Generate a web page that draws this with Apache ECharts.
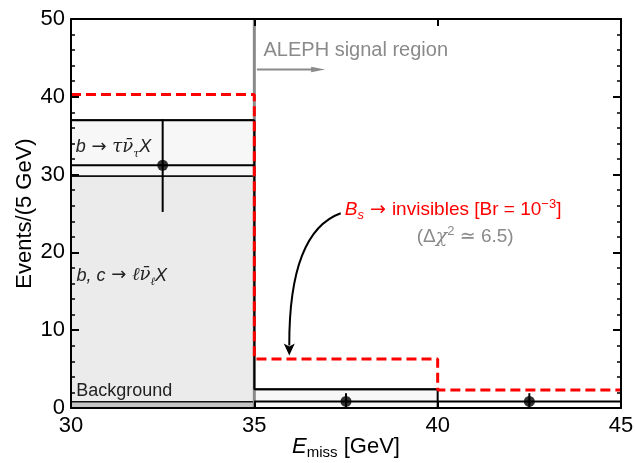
<!DOCTYPE html>
<html><head><meta charset="utf-8">
<script src="https://cdn.jsdelivr.net/npm/echarts@6/dist/echarts.min.js"></script>
<style>html,body{margin:0;padding:0;background:#fff}#c{width:635px;height:463px}</style>
</head><body><div id="c"></div>
<script>
// ---- data ----
const binStart = [30, 35, 40];
const binEnd = [35, 40, 45];
const bkgOther = [0.8, 0, 0];       // "Background"
const bkgBcLnu = [29.0, 0, 0];      // b,c -> l nu X
const bkgBTaunu = [7.2, 2.4, 0];    // b -> tau nu X
const dataX = [32.5, 37.5, 42.5];
const dataY = [31.2, 0.85, 0.85];
const dataLow = [25.2, 0, 0];
const dataHigh = [37.1, 1.9, 1.9];
const signalY = [40.3, 6.3, 2.3];
const signalRegionX = 35;

const FONT = "'Liberation Sans', Arial, 'DejaVu Sans', sans-serif";
const chart = echarts.init(document.getElementById('c'), null, {renderer: 'canvas'});

const totalY = binStart.map((_, i) => bkgOther[i] + bkgBcLnu[i] + bkgBTaunu[i]);
const stepData = arr => binStart.map((x, i) => [x, arr[i]]).concat([[binEnd[binEnd.length - 1], arr[arr.length - 1]]]);

const fills = ['#c4c4c4', '#ebebeb', '#f7f7f7'];

function renderStack(params, api) {
  const x0 = api.value(0), x1 = api.value(1);
  const parts = [api.value(2), api.value(3), api.value(4)];
  const children = [];
  let base = 0;
  parts.forEach((v, k) => {
    if (!v) return;
    const a = api.coord([x0, base + v]);
    const b = api.coord([x1, base]);
    children.push({type: 'rect', shape: {x: a[0], y: a[1], width: b[0] - a[0], height: b[1] - a[1]}, style: {fill: fills[k]}});
    base += v;
  });
  base = 0;
  parts.forEach((v) => {
    if (!v) return;
    base += v;
    const a = api.coord([x0, base]), b = api.coord([x1, base]);
    children.push({type: 'line', shape: {x1: a[0], y1: a[1], x2: b[0], y2: b[1]}, style: {stroke: '#111', lineWidth: 1.6}});
  });
  return {type: 'group', children};
}

function renderData(params, api) {
  const x0 = api.value(0), x1 = api.value(1), y = api.value(2), lo = api.value(3), hi = api.value(4), xc = api.value(5);
  const a = api.coord([x0, y]), b = api.coord([x1, y]);
  const l = api.coord([xc, lo]), h = api.coord([xc, hi]);
  return {type: 'group', children: [
    {type: 'line', shape: {x1: a[0], y1: a[1], x2: b[0], y2: b[1]}, style: {stroke: '#000', lineWidth: 2}},
    {type: 'line', shape: {x1: l[0], y1: l[1], x2: h[0], y2: h[1]}, style: {stroke: '#000', lineWidth: 2}}
  ]};
}

const axisCommon = {
  axisLine: {show: true, onZero: false, lineStyle: {color: '#000', width: 2}},
  splitLine: {show: false},
  z: 10
};

chart.setOption({
  animation: false,
  backgroundColor: '#fff',
  grid: {left: 71, right: 14, top: 19, bottom: 55, containLabel: false, outerBoundsMode: 'none'},
  xAxis: [
    Object.assign({}, axisCommon, {
      type: 'value', position: 'bottom', min: 30, max: 45, interval: 5,
      axisTick: {show: true, inside: true, length: 7, lineStyle: {width: 2, color: '#000'}},
      axisLabel: {fontSize: 22, color: '#000', fontFamily: FONT, margin: 7, hideOverlap: false},
      name: '{i|E}{sub|miss} [GeV]', nameLocation: 'middle', nameGap: 26, nameMoveOverlap: false,
      nameTextStyle: {fontSize: 22, color: '#000', fontFamily: FONT, lineHeight: 26,
        rich: {i: {fontSize: 22, fontStyle: 'italic', fontFamily: FONT, lineHeight: 26, color: '#000'},
               sub: {fontSize: 15, fontFamily: FONT, verticalAlign: 'bottom', lineHeight: 15, color: '#000'}}}
    }),
    Object.assign({}, axisCommon, {
      type: 'value', position: 'top', min: 30, max: 45, interval: 5,
      axisTick: {show: true, inside: true, length: 7, lineStyle: {width: 2, color: '#000'}},
      axisLabel: {show: false}
    })
  ],
  yAxis: [
    Object.assign({}, axisCommon, {
      type: 'value', position: 'left', min: 0, max: 50, interval: 10,
      axisTick: {show: true, inside: true, length: 8, lineStyle: {width: 2, color: '#000'}},
      minorTick: {show: true, splitNumber: 5, length: 4, lineStyle: {width: 1.5, color: '#000'}},
      axisLabel: {fontSize: 22, color: '#000', fontFamily: FONT, margin: 6, hideOverlap: false,
        verticalAlignMinLabel: 'middle', verticalAlignMaxLabel: 'middle'},
      name: 'Events/(5 GeV)', nameLocation: 'middle', nameGap: 35, nameMoveOverlap: false,
      nameTextStyle: {fontSize: 22, color: '#000', fontFamily: FONT}
    }),
    Object.assign({}, axisCommon, {
      type: 'value', position: 'right', min: 0, max: 50, interval: 10,
      axisTick: {show: true, inside: true, length: 8, lineStyle: {width: 2, color: '#000'}},
      minorTick: {show: true, splitNumber: 5, length: 4, lineStyle: {width: 1.5, color: '#000'}},
      axisLabel: {show: false}
    })
  ],
  series: [
    {
      type: 'custom', name: 'backgrounds', z: 1, clip: true,
      renderItem: renderStack,
      encode: {x: [0, 1], y: [2, 3, 4]},
      data: binStart.map((x, i) => [x, binEnd[i], bkgOther[i], bkgBcLnu[i], bkgBTaunu[i]])
    },
    {
      type: 'line', name: 'signal region edge', z: 2, showSymbol: false, silent: true,
      data: [[signalRegionX, 0], [signalRegionX, 50]],
      lineStyle: {color: '#8a8a8a', width: 3}
    },
    {
      type: 'line', name: 'total expected', z: 3, step: 'end', showSymbol: false,
      data: stepData(totalY),
      lineStyle: {color: '#000', width: 2}
    },
    {
      type: 'custom', name: 'data', z: 4,
      renderItem: renderData,
      encode: {x: [0, 1, 5], y: [2, 3, 4]},
      data: binStart.map((x, i) => [x, binEnd[i], dataY[i], dataLow[i], dataHigh[i], dataX[i]])
    },
    {
      type: 'scatter', name: 'data points', z: 5, symbol: 'circle', symbolSize: 11,
      itemStyle: {color: '#000'},
      data: dataX.map((x, i) => [x, dataY[i]])
    },
    {
      type: 'line', name: 'Bs invisible', z: 6, step: 'end', showSymbol: false,
      data: stepData(signalY),
      lineStyle: {color: '#ff0000', width: 3, type: [10, 5]}
    }
  ]
});

// ---- annotations, anchored in data coordinates ----
const notes = {
  alephText: [35.25, 46.0],
  alephArrow: [[35.07, 43.5], [36.93, 43.5]],
  sigText: [40.42, 25.45],
  chiText: [40.75, 21.98],
  curve: [[37.355, 25.03], [35.945, 22.62], [35.953, 6.75]],
  tauLabel: [30.13, 33.5],
  lepLabel: [30.15, 17.0],
  bkgLabel: [30.14, 2.12]
};
const P = v => chart.convertToPixel({xAxisIndex: 0, yAxisIndex: 0}, v);

function txt(pos, text, opts) {
  const p = P(pos);
  return {
    type: 'text', z: 100, x: p[0], y: p[1],
    style: Object.assign({
      text: text, fontFamily: FONT, fontSize: 19, fill: '#000',
      align: 'left', verticalAlign: 'middle', textAlign: 'left', textVerticalAlign: 'middle'
    }, opts)
  };
}

const aA = P(notes.alephArrow[0]), aB = P(notes.alephArrow[1]);
const c0 = P(notes.curve[0]), c1 = P(notes.curve[1]), c2 = P(notes.curve[2]);
const headLen = 12, headHalf = 5.5;

const mathRich = (size, color) => ({
  i: {fontSize: size, fontStyle: 'italic', fontFamily: FONT, fill: color, lineHeight: 24},
  a: {fontSize: size, fontFamily: "'DejaVu Sans', sans-serif", fill: color, lineHeight: 24},
  g: {fontSize: size, fontStyle: 'italic', fontFamily: "'DejaVu Serif', serif", fill: color, lineHeight: 24},
  sub: {fontSize: Math.round(size * 0.62), fontStyle: 'italic', fontFamily: "'DejaVu Serif', serif", fill: color, verticalAlign: 'bottom', lineHeight: 12},
  subs: {fontSize: Math.round(size * 0.68), fontStyle: 'italic', fontFamily: FONT, fill: color, verticalAlign: 'bottom', lineHeight: 12},
  sup: {fontSize: Math.round(size * 0.68), fontFamily: FONT, fill: color, verticalAlign: 'top', lineHeight: 12},
  n: {fontSize: size, fontFamily: FONT, fill: color, lineHeight: 24}
});

chart.setOption({
  graphic: [
    txt(notes.alephText, 'ALEPH signal region', {fill: '#8a8a8a', fontSize: 20}),
    {type: 'line', z: 100, shape: {x1: aA[0], y1: aA[1], x2: aB[0] - 12, y2: aB[1]}, style: {stroke: '#8a8a8a', lineWidth: 2}},
    {type: 'polygon', z: 100, shape: {points: [[aB[0], aB[1]], [aB[0] - 14, aB[1] - 2.8], [aB[0] - 14, aB[1] + 2.8]]}, style: {fill: '#8a8a8a'}},
    txt(notes.sigText, '{i|B}{subs|s}{a| → }{n|invisibles [Br = 10}{sup|−3}{n|]}',
      {align: 'center', textAlign: 'center', fontSize: 19, fill: '#ff0000', rich: mathRich(19, '#ff0000')}),
    txt(notes.chiText, '{n|(Δ}{g|χ}{sup|2}{n| ≃ 6.5)}',
      {align: 'center', textAlign: 'center', fontSize: 19, fill: '#8a8a8a', rich: mathRich(19, '#8a8a8a')}),
    {type: 'bezierCurve', z: 100, shape: {x1: c0[0], y1: c0[1], x2: c2[0], y2: c2[1] - headLen + 2, cpx1: c1[0], cpy1: c1[1]},
      style: {stroke: '#000', lineWidth: 2, fill: null}},
    {type: 'polygon', z: 100, shape: {points: [[c2[0], c2[1]], [c2[0] - headHalf, c2[1] - headLen], [c2[0], c2[1] - headLen + 3], [c2[0] + headHalf, c2[1] - headLen]]}, style: {fill: '#000'}},
    txt(notes.tauLabel, '{i|b}{a| → }{g|τν̄}{sub|τ}{i|X}', {fontSize: 18, fill: '#222', rich: mathRich(18, '#222')}),
    txt(notes.lepLabel, '{i|b, c}{a| → }{g|ℓν̄}{sub|ℓ}{i|X}', {fontSize: 18, fill: '#222', rich: mathRich(18, '#222')}),
    txt(notes.bkgLabel, 'Background', {fontSize: 18, fill: '#222'})
  ]
});
</script>
</body></html>
